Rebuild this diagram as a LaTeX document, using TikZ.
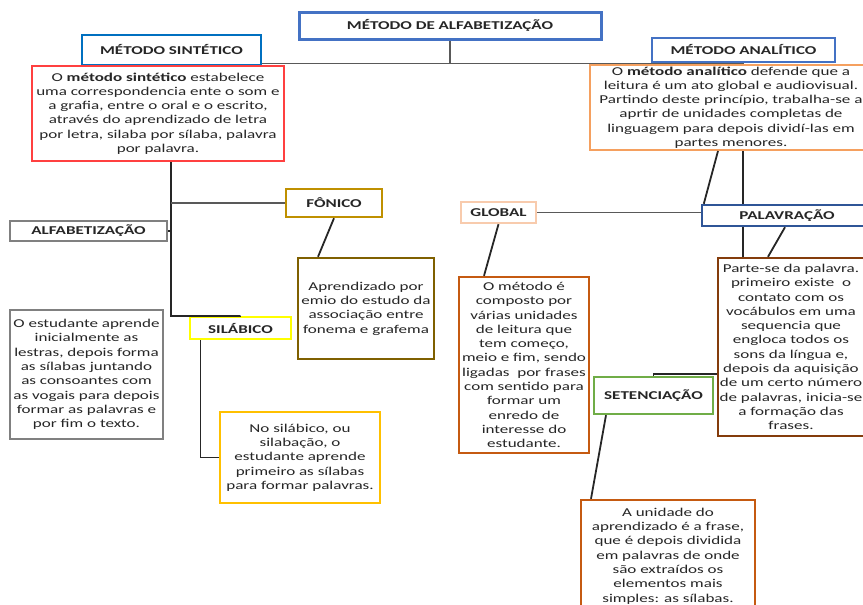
\documentclass[tikz,border=0pt]{standalone}
\usepackage{fontspec}
\setmainfont{Carlito}[FakeStretch=1.42]

\definecolor{azultit}{RGB}{68,114,196}
\definecolor{azulsint}{RGB}{0,112,192}
\definecolor{azulesc}{RGB}{47,85,151}
\definecolor{vermelho}{RGB}{255,64,64}
\definecolor{laranja}{RGB}{245,160,95}
\definecolor{cinza}{RGB}{128,128,128}
\definecolor{ouro}{RGB}{191,144,0}
\definecolor{oliva}{RGB}{127,96,0}
\definecolor{amarelo}{RGB}{255,255,0}
\definecolor{ambar}{RGB}{255,192,0}
\definecolor{pessego}{RGB}{248,203,173}
\definecolor{ferrugem}{RGB}{197,90,17}
\definecolor{marrom}{RGB}{132,60,12}
\definecolor{verde}{RGB}{112,173,71}

\begin{document}
\begin{tikzpicture}[x=1pt,y=-1pt,
  caixa/.style={draw,fill=white,line width=2.4pt,align=center,inner sep=1pt,
    font=\fontsize{12}{14.3}\selectfont,text=black!85},
  rotulo/.style={caixa,font=\fontsize{12}{14.3}\selectfont\bfseries},
  liga/.style={line width=1.8pt,black!85},
  barra/.style={line width=1.8pt,black!65}]
\useasboundingbox (0,0) rectangle (863,605);
\clip (0,0) rectangle (863,605);

% Topo
\node[rotulo,draw=azultit,line width=3pt,minimum width=302pt,minimum height=27pt] (titulo) at (450,25.5) {MÉTODO DE ALFABETIZAÇÃO};
\node[rotulo,draw=azulsint,minimum width=179pt,minimum height=30pt] (sint) at (171.5,50) {MÉTODO SINTÉTICO};
\node[caixa,draw=vermelho,line width=2pt,minimum width=252pt,minimum height=95pt] (sinttxt) at (158,113.5)
  {O \textbf{método sintético} estabelece\\ uma correspondencia ente o som e\\ a grafia, entre o oral e o escrito,\\ através do aprendizado de letra\\ por letra, silaba por sílaba, palavra\\ por palavra.};
\node[rotulo,draw=azultit,minimum width=183pt,minimum height=24pt] (anal) at (743.5,50) {MÉTODO ANALÍTICO};
\node[caixa,draw=laranja,line width=2pt,minimum width=282pt,minimum height=85pt] (analtxt) at (731,107.5)
  {O \textbf{método analítico} defende que a\\ leitura é um ato global e audiovisual.\\ Partindo deste princípio, trabalha-se a\\ aprtir de unidades completas de\\ linguagem para depois dividí-las em\\ partes menores.};

% Lado sintético
\node[rotulo,draw=cinza,minimum width=157pt,minimum height=20pt] (alfa) at (88.5,231) {ALFABETIZAÇÃO};
\node[rotulo,draw=ouro,minimum width=96pt,minimum height=28pt] (fonico) at (334,203) {FÔNICO};
\node[caixa,draw=oliva,minimum width=136pt,minimum height=101pt] (fontxt) at (366,308.5)
  {Aprendizado por\\ emio do estudo da\\ associação entre\\ fonema e grafema};
\node[caixa,draw=cinza,minimum width=153pt,minimum height=129pt] (esttxt) at (86.5,374.5)
  {O estudante aprende\\ inicialmente as\\ lestras, depois forma\\ as sílabas juntando\\ as consoantes com\\ as vogais para depois\\ formar as palavras e\\ por fim o texto.};
\node[rotulo,draw=amarelo,minimum width=101pt,minimum height=22pt] (silab) at (240.5,328) {SILÁBICO};
\node[caixa,draw=ambar,minimum width=160pt,minimum height=91pt] (siltxt) at (300,457.5)
  {No silábico, ou\\ silabação, o\\ estudante aprende\\ primeiro as sílabas\\ para formar palavras.};

% Lado analítico
\node[rotulo,draw=pessego,minimum width=75pt,minimum height=21pt] (global) at (498.5,212.5) {GLOBAL};
\node[rotulo,draw=azulesc,minimum width=170pt,minimum height=21pt] (palav) at (787,215.5) {PALAVRAÇÃO};
\node[caixa,draw=ferrugem,minimum width=130pt,minimum height=176pt] (globtxt) at (524,365)
  {O método é\\ composto por\\ várias unidades\\ de leitura que\\ tem começo,\\ meio e fim, sendo\\ ligadas~ por frases\\ com sentido para\\ formar um\\ enredo de\\ interesse do\\ estudante.};
\node[caixa,draw=marrom,minimum width=146pt,minimum height=178pt] (partetxt) at (791,347)
  {Parte-se da palavra.\\ primeiro existe~ o\\ contato com os\\ vocábulos em uma\\ sequencia que\\ engloca todos os\\ sons da língua e,\\ depois da aquisição\\ de um certo número\\ de palavras, inicia-se\\ a formação das\\ frases.};
\node[rotulo,draw=verde,minimum width=119pt,minimum height=37pt] (seten) at (653.5,395.5) {SETENCIAÇÃO};
\node[caixa,draw=ferrugem,minimum width=174pt,minimum height=112pt] (unitxt) at (668,556)
  {A unidade do\\ aprendizado é a frase,\\ que é depois dividida\\ em palavras de onde\\ são extraídos os\\ elementos mais\\ simples: as sílabas.};

% Ligações do topo
\coordinate (eixo) at (449,63.5);
\draw[barra] (titulo.south) -- (titulo.south |- eixo);
\draw[barra] (sint.south east |- eixo) -- (anal.south |- eixo);

% Ligações do método sintético
\coordinate (tronco) at ([xshift=13pt]sinttxt.south);
\draw[liga] (tronco) -- ++(0,154) -| (silab.north);
\draw[barra] (fonico.west -| tronco) -- (fonico.west);
\draw[liga] (alfa.east) -- (alfa.east -| tronco);
\draw[liga] (fonico.south) -- ([xshift=-48pt]fontxt.north);
\draw[liga] ([xshift=-40pt]silab.south) |- (siltxt.west);

% Ligações do método analítico
\coordinate (desce) at ([xshift=12pt]analtxt.south);
\draw[liga] ([xshift=-13pt]analtxt.south) -- ([xshift=3pt]palav.north west);
\draw[liga] (desce) -- (desce |- palav.north);
\draw[liga] (desce |- palav.south) -- (desce |- partetxt.north);
\draw[liga] ([xshift=-2pt]palav.south) -- ([xshift=-23pt]partetxt.north);
\draw[barra] (global.east) -- (global.east -| palav.west);
\draw[liga] (global.south) -- ([xshift=-40pt]globtxt.north);
\draw[liga] (seten.north) |- ([yshift=-27pt]partetxt.west);
\draw[liga] ([xshift=-47.5pt]seten.south) -- ([xshift=-77pt]unitxt.north);
\end{tikzpicture}
\end{document}
